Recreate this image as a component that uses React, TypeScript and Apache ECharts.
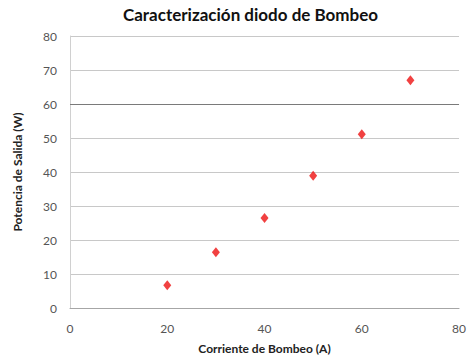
import React, { useEffect, useRef } from "react";
import * as echarts from "echarts";

const corriente = [20, 30, 40, 50, 60, 70];
const potencia = [6.7, 16.4, 26.5, 38.9, 51.1, 67.0];
const titleText = "Caracterización diodo de Bombeo";
const xName = "Corriente de Bombeo (A)";
const yName = "Potencia de Salida (W)";

export default function App() {
  const ref = useRef<HTMLDivElement>(null);
  useEffect(() => {
    document.body.style.margin = "0";
    if (!ref.current) return;
    const chart = echarts.init(ref.current, undefined, { renderer: "svg" });
    const font = "Lato, 'Open Sans', sans-serif";
    chart.setOption({
      animation: false,
      backgroundColor: "#ffffff",
      title: {
        text: titleText,
        left: 118,
        top: 1,
        textStyle: { fontFamily: font, fontSize: 17, fontWeight: "bold", color: "#111" },
      },
      grid: { left: 70, right: 8, top: 36, bottom: 52 },
      xAxis: {
        type: "value",
        min: 0,
        max: 80,
        interval: 20,
        name: xName,
        nameLocation: "middle",
        nameGap: 34,
        nameTextStyle: { fontFamily: font, fontSize: 12, fontWeight: "bold", color: "#222" },
        axisLine: { show: true, lineStyle: { color: "#a6a6a6" } },
        axisTick: { show: false },
        axisLabel: { fontFamily: font, fontSize: 12, color: "#555", margin: 14 },
        splitLine: { show: false },
      },
      yAxis: {
        type: "value",
        min: 0,
        max: 80,
        interval: 10,
        name: yName,
        nameLocation: "middle",
        nameGap: 47,
        nameTextStyle: { fontFamily: font, fontSize: 12, fontWeight: "bold", color: "#222" },
        axisLine: { show: true, lineStyle: { color: "#d0d0d0" } },
        axisTick: { show: false },
        axisLabel: { fontFamily: font, fontSize: 12, color: "#555", margin: 13 },
        splitLine: { show: true, lineStyle: { color: "#c8c8c8" } },
      },
      series: [
        {
          type: "scatter",
          data: corriente.map((x, i) => [x, potencia[i]]),
          symbol: "diamond",
          symbolSize: [8, 10],
          itemStyle: { color: "#ee1111" },
          markLine: {
            silent: true,
            symbol: "none",
            label: { show: false },
            lineStyle: { color: "#7a7a7a", type: "solid", width: 1 },
            data: [{ yAxis: 60 }],
          },
        },
      ],
    });
    return () => chart.dispose();
  }, []);
  return <div ref={ref} style={{ width: 469, height: 360 }} />;
}
